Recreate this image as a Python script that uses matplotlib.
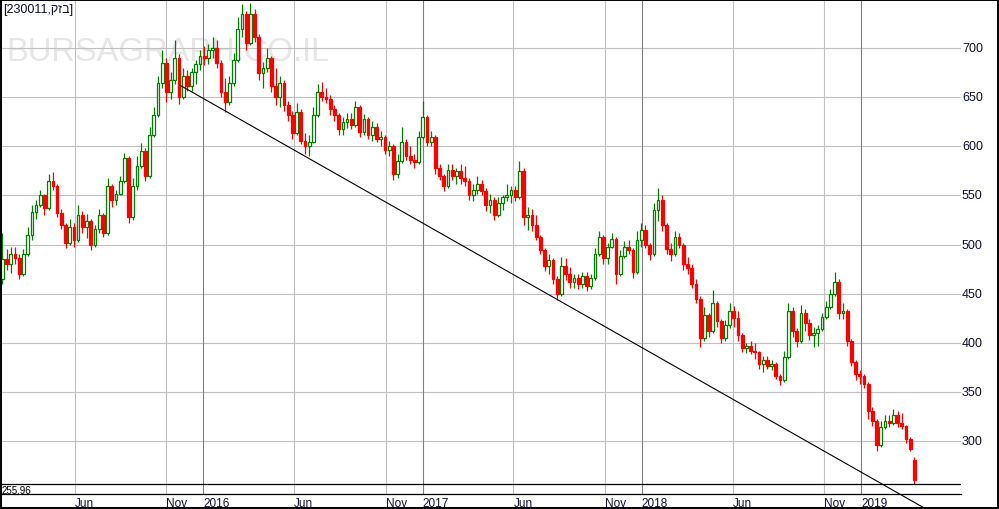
import matplotlib
matplotlib.use('Agg')
import matplotlib.pyplot as plt
import matplotlib.dates as mdates
import matplotlib.transforms as mtransforms
from matplotlib.patches import Rectangle
import numpy as np
import pandas as pd

plt.rcParams['font.family'] = ['Liberation Sans', 'DejaVu Sans']

# ---------------- data ----------------
security_name = 'בזק'
security_id = '230011'
low_label = '255.96'
watermark = 'BURSAGRAPH.CO.IL'

first_week = '2015-02-01'   # weekly candles

opens = [465, 485, 480, 490, 486, 470, 490, 510, 533, 540, 550, 537, 565, 560, 532, 520, 502, 518, 505, 530,
         518, 524, 500, 516, 530, 512, 560, 545, 552, 565, 588, 528, 560, 580, 595, 570, 612, 632, 665, 685,
         655, 668, 690, 650, 672, 662, 676, 684, 692, 690, 698, 700, 685, 655, 645, 665, 688, 720, 735, 705,
         735, 712, 675, 680, 690, 662, 650, 665, 642, 632, 614, 635, 606, 600, 605, 632, 655, 650, 648, 638,
         632, 618, 625, 628, 622, 640, 615, 628, 612, 620, 608, 610, 596, 600, 572, 585, 605, 590, 586, 584,
         610, 630, 605, 610, 578, 570, 560, 576, 570, 575, 568, 565, 550, 556, 562, 555, 540, 545, 530, 542,
         548, 550, 556, 548, 575, 528, 530, 520, 508, 494, 478, 484, 465, 450, 478, 470, 462, 466, 460, 468,
         458, 466, 490, 508, 486, 498, 506, 470, 488, 498, 494, 472, 505, 515, 500, 490, 535, 545, 520, 495,
         490, 508, 500, 480, 476, 460, 445, 405, 428, 412, 440, 422, 405, 418, 432, 425, 408, 395, 397, 392,
         390, 378, 382, 376, 378, 366, 362, 385, 432, 412, 402, 430, 420, 408, 410, 414, 426, 436, 450, 462,
         430, 432, 402, 380, 368, 366, 358, 330, 320, 296, 314, 320, 318, 326, 318, 315, 302, 280]
highs = [512, 495, 497, 498, 490, 495, 518, 540, 545, 556, 552, 572, 574, 562, 536, 522, 526, 522, 540, 534,
         531, 526, 520, 536, 532, 568, 562, 556, 570, 593, 590, 568, 590, 603, 598, 620, 640, 672, 698, 690,
         676, 708, 694, 680, 678, 680, 688, 698, 702, 704, 712, 708, 688, 670, 672, 695, 732, 745, 738, 746,
         740, 715, 686, 700, 692, 680, 672, 668, 646, 636, 644, 638, 614, 612, 640, 664, 666, 660, 652, 642,
         634, 630, 634, 634, 646, 642, 633, 630, 626, 624, 616, 612, 606, 602, 592, 620, 608, 600, 592, 616,
         646, 632, 616, 612, 582, 572, 582, 582, 578, 582, 580, 568, 562, 570, 566, 558, 552, 548, 548, 550,
         562, 560, 560, 585, 578, 538, 536, 530, 510, 496, 490, 486, 468, 487, 486, 477, 470, 470, 472, 472,
         470, 496, 514, 510, 502, 512, 508, 494, 504, 505, 496, 514, 522, 520, 502, 542, 558, 550, 522, 502,
         514, 512, 502, 487, 480, 465, 448, 436, 430, 454, 442, 424, 423, 440, 437, 432, 410, 400, 402, 400,
         392, 386, 386, 382, 380, 368, 392, 440, 436, 415, 438, 434, 424, 416, 418, 430, 442, 455, 472, 465,
         440, 434, 404, 382, 372, 368, 360, 334, 322, 320, 326, 326, 332, 330, 328, 316, 304, 283]
lows = [460, 474, 471, 480, 465, 468, 488, 505, 526, 538, 530, 535, 556, 528, 516, 496, 500, 497, 503, 512,
        507, 494, 497, 512, 508, 510, 538, 540, 550, 563, 522, 525, 556, 578, 565, 568, 610, 630, 660, 645,
        648, 664, 643, 648, 656, 656, 664, 678, 683, 684, 690, 680, 650, 635, 642, 662, 686, 712, 698, 703,
        706, 668, 660, 676, 655, 642, 640, 636, 626, 608, 612, 602, 592, 590, 603, 630, 646, 644, 632, 626,
        612, 612, 619, 618, 620, 610, 612, 608, 606, 604, 600, 592, 590, 566, 568, 583, 586, 582, 578, 582,
        608, 600, 600, 572, 566, 555, 558, 566, 562, 562, 560, 545, 544, 552, 550, 534, 532, 525, 528, 535,
        544, 542, 544, 546, 520, 515, 514, 505, 490, 473, 470, 460, 443, 448, 464, 456, 456, 455, 456, 453,
        455, 464, 488, 480, 480, 496, 460, 468, 486, 490, 466, 470, 498, 496, 484, 488, 524, 514, 490, 483,
        488, 496, 474, 470, 456, 440, 396, 402, 406, 410, 416, 400, 402, 415, 416, 402, 390, 389, 388, 383,
        373, 370, 373, 372, 363, 357, 360, 383, 406, 396, 400, 412, 403, 396, 397, 412, 424, 434, 448, 424,
        424, 397, 376, 362, 358, 354, 322, 315, 290, 294, 312, 314, 316, 314, 312, 298, 290, 255.96]
closes = [485, 480, 490, 486, 470, 490, 510, 533, 540, 550, 537, 565, 560, 532, 520, 502, 518, 505, 530, 518,
          524, 500, 516, 530, 512, 560, 545, 552, 565, 588, 528, 560, 580, 595, 570, 612, 632, 665, 685, 655,
          668, 690, 650, 672, 662, 676, 684, 692, 690, 698, 700, 685, 655, 645, 665, 688, 720, 735, 705, 735,
          712, 675, 680, 690, 662, 650, 665, 642, 632, 614, 635, 606, 600, 605, 632, 655, 650, 648, 638, 632,
          618, 625, 628, 622, 640, 615, 628, 612, 620, 608, 610, 596, 600, 572, 585, 605, 590, 586, 584, 610,
          630, 605, 610, 578, 570, 560, 576, 570, 575, 568, 565, 550, 556, 562, 555, 540, 545, 530, 542, 548,
          550, 556, 548, 575, 528, 530, 520, 508, 494, 478, 484, 465, 450, 478, 470, 462, 466, 460, 468, 458,
          466, 490, 508, 486, 498, 506, 470, 488, 498, 494, 472, 505, 515, 500, 490, 535, 545, 520, 495, 490,
          508, 500, 480, 476, 460, 445, 405, 428, 412, 440, 422, 405, 418, 432, 425, 408, 395, 397, 392, 390,
          378, 382, 376, 378, 366, 362, 385, 432, 412, 402, 430, 420, 408, 410, 414, 426, 436, 450, 462, 430,
          432, 402, 380, 368, 366, 358, 330, 320, 296, 314, 320, 318, 326, 318, 315, 302, 292, 260]

price_ticks = [300, 350, 400, 450, 500, 550, 600, 650, 700]
date_ticks = ['2015-06-01', '2015-11-01', '2016-01-01', '2016-06-01', '2016-11-01', '2017-01-01',
              '2017-06-01', '2017-11-01', '2018-01-01', '2018-06-01', '2018-11-01', '2019-01-01']
date_labels = ['Jun', 'Nov', '2016', 'Jun', 'Nov', '2017', 'Jun', 'Nov', '2018', 'Jun', 'Nov', '2019']

trend_dates = ['2015-11-23', '2019-04-14']
trend_prices = [662.6, 232.3]

# ---------------- layout ----------------
W, H = 999, 510
GREEN = '#008000'
RED = '#ff0000'
GRID = '#c0c0c0'
YEARGRID = '#808080'
TXT = '#10103a'

fig = plt.figure(figsize=(W / 100, H / 100), dpi=100)
fig.patch.set_facecolor('white')

ax_w_px, ax_h_px = 961, 495
ax = fig.add_axes([0, (H - ax_h_px) / H, ax_w_px / W, ax_h_px / H])
ax.set_facecolor('white')

y_bottom, y_top = 245.77, 750.24
ax.set_ylim(y_bottom, y_top)
ref = mdates.date2num(pd.Timestamp('2016-01-01'))
ax.set_xlim(ref - 338.1, ref + 1262.5)

for s in ['top', 'left', 'right']:
    ax.spines[s].set_visible(False)
ax.spines['bottom'].set_color('black')
ax.spines['bottom'].set_linewidth(0.9)
ax.set_xticks([])
ax.set_yticks([])

# watermark behind everything
ax.text(6 / W, 1 - 61 / H, watermark, transform=fig.transFigure, fontsize=23.6,
        color='#e6e6e6', va='baseline', ha='left', zorder=0.5, family='Liberation Sans')

# grid
for p in price_ticks:
    ax.axhline(p, color=GRID, lw=0.8, zorder=1)
tick_nums = mdates.date2num(pd.to_datetime(date_ticks))
for d, lab in zip(tick_nums, date_labels):
    is_year = lab.isdigit()
    ax.axvline(d, color=YEARGRID if is_year else GRID, lw=0.8, zorder=1)

# panel separator line at the low
ax.axhline(float(low_label), color='black', lw=0.9, zorder=4)

# candles
dates = pd.date_range(first_week, periods=len(closes), freq='7D')
xd = mdates.date2num(dates)
O = np.array(opens, float)
Hh = np.array(highs, float)
L = np.array(lows, float)
C = np.array(closes, float)
up = C >= O
dn = ~up
bw = 4.6
ax.vlines(xd[up], L[up], Hh[up], color=GREEN, lw=0.9, zorder=2)
ax.vlines(xd[dn], L[dn], Hh[dn], color=RED, lw=0.9, zorder=2)
ax.bar(xd[up], np.maximum(C[up] - O[up], 0.6), bottom=O[up], width=bw, facecolor='white',
       edgecolor=GREEN, linewidth=0.9, zorder=2.1)
ax.bar(xd[dn], O[dn] - C[dn], bottom=C[dn], width=bw, facecolor=RED,
       edgecolor=RED, linewidth=0.9, zorder=2.1)

# trend line
ax.plot(mdates.date2num(pd.to_datetime(trend_dates)), trend_prices, color='black',
        lw=0.8, zorder=3, clip_on=False)

# right price labels
tr_r = mtransforms.blended_transform_factory(ax.transAxes, ax.transData)
for p in price_ticks:
    ax.text(1.0 + 1 / ax_w_px, p, f'{p}', transform=tr_r, ha='left', va='center',
            fontsize=9, color=TXT, clip_on=False)

# date labels
tr_b = mtransforms.blended_transform_factory(ax.transData, ax.transAxes)
for d, lab in zip(tick_nums, date_labels):
    ax.text(d, -3 / ax_h_px, lab, transform=tr_b, ha='left', va='top', fontsize=8.5,
            color=TXT, clip_on=False)

# header label and low label
fig.text(3 / W, 1 - 9.5 / H, f'[{security_id},{security_name[::-1]}]', fontsize=9,
         va='center', ha='left', color=TXT)
fig.text(2 / W, 1 - 491 / H, low_label, fontsize=7, va='center', ha='left', color='black')

# outer frame
fig.add_artist(Rectangle((0.7 / W, (H - 508.8) / H), (997.8 - 0.7) / W, (508.8 - 0.7) / H,
                         transform=fig.transFigure, fill=False, edgecolor='black',
                         linewidth=1.4, zorder=10))

fig.savefig('out.png', dpi=100, facecolor='white')
